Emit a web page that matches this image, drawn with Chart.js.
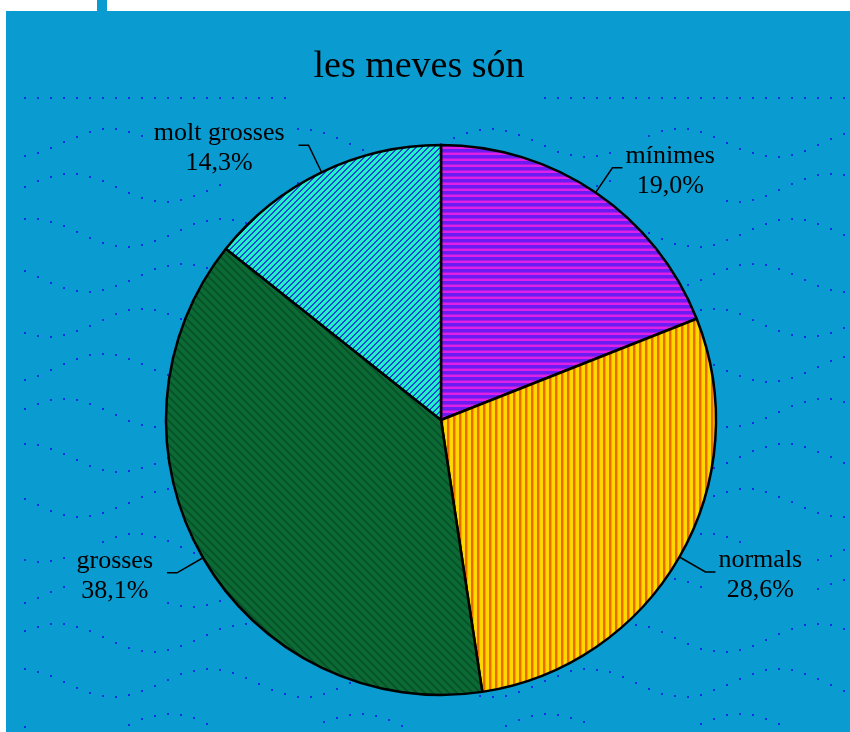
<!DOCTYPE html>
<html>
<head>
<meta charset="utf-8">
<script src="https://cdn.jsdelivr.net/npm/chart.js@4"></script>
<style>
  html, body { margin: 0; padding: 0; background: #fff; width: 850px; height: 732px; overflow: hidden; }
  #tab { position: absolute; left: 97px; top: 0; width: 10px; height: 12px; background: #0a9bd0; }
  #panel { position: absolute; left: 6px; top: 11px; width: 844px; height: 721px; background: #0a9bd0; }
</style>
</head>
<body>
<div id="tab"></div>
<div id="panel"><canvas id="chart" width="844" height="721"></canvas></div>
<script>
const TITLE = 'les meves són';
const categories = ['mínimes', 'normals', 'grosses', 'molt grosses'];
const values = [19.0, 28.6, 38.1, 14.3];

const LABEL_FONT = '26px "Liberation Serif", serif';

function pct(v) {
    return v.toFixed(1).replace('.', ',') + '%';
}

// small tiles used as fill patterns
function makePattern(size, draw) {
    const c = document.createElement('canvas');
    c.width = size; c.height = size;
    const g = c.getContext('2d');
    draw(g, size);
    return g.createPattern(c, 'repeat');
}

const ctx = document.getElementById('chart').getContext('2d');

const fills = [
    // horizontal violet / magenta
    makePattern(6, (g, s) => {
        g.fillStyle = '#6a1cf2'; g.fillRect(0, 0, s, s);
        g.fillStyle = '#a01ee8'; g.fillRect(0, 3, s, 1);
        g.fillStyle = '#e020e6'; g.fillRect(0, 4, s, 2);
    }),
    // vertical yellow / orange
    makePattern(6, (g, s) => {
        g.fillStyle = '#ffd800'; g.fillRect(0, 0, s, s);
        g.fillStyle = '#e86c00'; g.fillRect(3, 0, 2, s);
        g.fillStyle = '#f5a400'; g.fillRect(5, 0, 1, s);
    }),
    // dark green with darker diagonals
    makePattern(8, (g, s) => {
        g.fillStyle = '#0c6a34'; g.fillRect(0, 0, s, s);
        g.fillStyle = '#07552a';
        for (let i = 0; i < s; i++) { g.fillRect(i, i, 1, 1); g.fillRect((i + 1) % s, i, 1, 1); g.fillRect((i + 2) % s, i, 1, 1); }
    }),
    // cyan with blue diagonals
    makePattern(6, (g, s) => {
        g.fillStyle = '#22f0c8'; g.fillRect(0, 0, s, s);
        g.fillStyle = '#1c48d8';
        for (let i = 0; i < s; i++) { g.fillRect((s - 1 - i), i, 1, 1); g.fillRect((s - i) % s, i, 1, 1); }
    })
];

// leader line + text placement for every slice
function labelLayout(chart) {
    const c = chart.ctx;
    c.save();
    c.font = LABEL_FONT;
    const out = chart.getDatasetMeta(0).data.map((arc, i) => {
        const mid = (arc.startAngle + arc.endAngle) / 2;
        const r = arc.outerRadius;
        const dx = Math.cos(mid), dy = Math.sin(mid);
        const side = dx >= 0 ? 1 : -1;
        const x2 = arc.x + dx * (r + 30), y2 = arc.y + dy * (r + 30);
        const x3 = x2 + side * 10;
        const l1 = categories[i], l2 = pct(values[i]);
        const w = Math.max(c.measureText(l1).width, c.measureText(l2).width);
        const cx = x3 + side * ((side > 0 ? 3 : 14) + w / 2);
        return {
            x1: arc.x + dx * r, y1: arc.y + dy * r, x2, y2, x3,
            l1, l2, cx,
            box: { left: cx - w / 2 - 8, right: cx + w / 2 + 8, top: y2 - 28, bottom: y2 + 34 }
        };
    });
    c.restore();
    return out;
}

// wavy rows of dots behind the pie
const dotBackground = {
    id: 'dotBackground',
    beforeDraw(chart) {
        const c = chart.ctx;
        const boxes = labelLayout(chart).map(l => l.box);
        boxes.push({ left: 290, right: 530, top: 20, bottom: 95 });
        c.save();
        c.fillStyle = '#1230e8';
        for (let r = 0; r < 15; r++) {
            const baseY = 86 + r * 45;
            const amp = r === 0 ? 0 : 14;
            const phase = r * 1.3;
            for (let x = 18; x < 840; x += 13) {
                const y = baseY + amp * Math.sin(x / 190 * Math.PI * 2 + phase);
                if (y < 80 || y > 716) continue;
                if (boxes.some(b => x > b.left && x < b.right && y > b.top && y < b.bottom)) continue;
                c.fillRect(Math.round(x), Math.round(y), 2, 2);
            }
        }
        c.restore();
    }
};

const pieLabels = {
    id: 'pieLabels',
    afterDatasetsDraw(chart) {
        const c = chart.ctx;
        const layout = labelLayout(chart);
        c.save();
        c.fillStyle = '#000';
        c.font = '38px "Liberation Serif", serif';
        c.textAlign = 'center';
        c.textBaseline = 'alphabetic';
        c.fillText(TITLE, 413, 66);

        c.font = LABEL_FONT;
        c.strokeStyle = '#000';
        c.lineWidth = 1.5;
        layout.forEach(l => {
            c.beginPath();
            c.moveTo(l.x1, l.y1); c.lineTo(l.x2, l.y2); c.lineTo(l.x3, l.y2);
            c.stroke();
            c.fillText(l.l1, l.cx, l.y2 - 5);
            c.fillText(l.l2, l.cx, l.y2 + 25);
        });
        c.restore();
    }
};

new Chart(ctx, {
    type: 'pie',
    data: {
        labels: categories,
        datasets: [{
            data: values,
            backgroundColor: fills,
            borderColor: '#000',
            borderWidth: 2.5
        }]
    },
    options: {
        responsive: false,
        animation: false,
        radius: 275,
        layout: { padding: { left: 155, right: 129, top: 129, bottom: 32 } },
        plugins: {
            legend: { display: false },
            tooltip: { enabled: false },
            title: { display: false }
        }
    },
    plugins: [dotBackground, pieLabels]
});
</script>
</body>
</html>
